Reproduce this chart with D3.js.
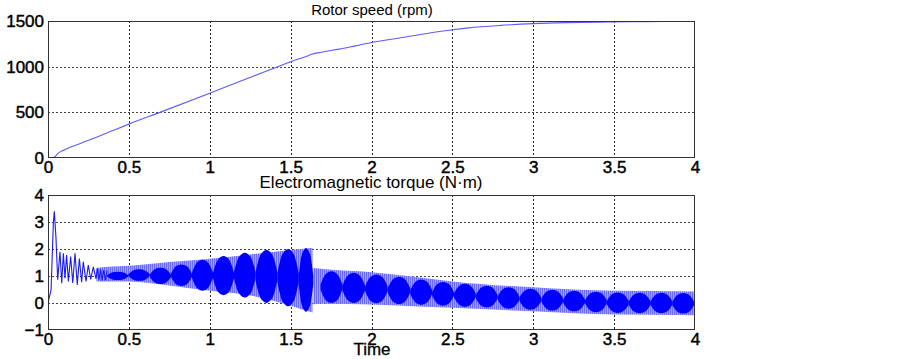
<!DOCTYPE html>
<html>
<head>
<meta charset="utf-8">
<script src="https://cdn.jsdelivr.net/npm/d3@7"></script>
<style>
  body { margin: 0; background: #fff; }
  text { font-family: "Liberation Sans", Arial, sans-serif; fill: #000; }
</style>
</head>
<body>
<div id="chart"></div>
<script>
// ---- data ----
const timeTicks = [0, 0.5, 1, 1.5, 2, 2.5, 3, 3.5, 4];
const speedTicks = [0, 500, 1000, 1500];
const torqueTicks = [-1, 0, 1, 2, 3, 4];

// rotor speed (rpm)
const speedTime = [0, 0.02, 0.04, 0.06, 0.1, 0.2, 0.3, 0.4, 0.5, 0.7, 1.0, 1.2, 1.4, 1.5, 1.6, 1.63, 1.7, 1.8, 1.9, 2.0, 2.2, 2.4, 2.5, 2.6, 2.8, 3.0, 3.2, 3.4, 3.6, 3.8, 4.0];
const speedRpm  = [0, 0, 10, 48, 88, 160, 228, 300, 371, 505, 710, 848, 985, 1053, 1115, 1135, 1160, 1192, 1228, 1264, 1322, 1380, 1405, 1425, 1452, 1471, 1482, 1488, 1492, 1495, 1497];

// torque start-up transient (N·m)
const transTime   = [0, 0.019, 0.033, 0.039, 0.049, 0.06, 0.074, 0.085, 0.095, 0.105, 0.115, 0.126, 0.14, 0.153, 0.167, 0.181, 0.194, 0.208, 0.218, 0.235, 0.249, 0.264, 0.28, 0.297, 0.305, 0.315, 0.325, 0.335, 0.345, 0.355, 0.365];
const transTorque = [0, 0.49, 2.94, 3.40, 2.45, 0.86, 1.90, 0.73, 1.84, 0.92, 1.78, 0.80, 1.72, 0.74, 1.84, 0.67, 1.65, 0.77, 1.53, 0.80, 1.40, 0.87, 1.34, 0.89, 1.28, 0.86, 1.25, 0.84, 1.22, 0.85, 1.2];

// torque ripple envelope, before the load step
const bandTimeA = [0.30, 0.40, 0.50, 0.75, 1.00, 1.25, 1.50, 1.56, 1.635];
const bandUpA   = [1.30, 1.35, 1.38, 1.52, 1.64, 1.80, 1.96, 2.00, 2.05];
const bandLoA   = [0.80, 0.80, 0.80, 0.65, 0.45, 0.28, -0.10, -0.22, -0.35];
// after the load step
const bandTimeB = [1.64, 1.70, 2.00, 2.25, 2.50, 3.00, 3.50, 4.00];
const bandUpB   = [1.30, 1.26, 1.14, 0.98, 0.80, 0.58, 0.45, 0.43];
const bandLoB   = [-0.05, -0.03, -0.06, -0.12, -0.18, -0.31, -0.43, -0.45];

// beat lobes: boundary times and extent at lobe centre
const lobeNodesA = [0.365, 0.497, 0.63, 0.76, 0.89, 1.02, 1.15, 1.283, 1.418, 1.55, 1.64];
const lobeTopA   = [1.16, 1.25, 1.31, 1.43, 1.60, 1.74, 1.86, 1.97, 2.00, 2.04];
const lobeBotA   = [0.85, 0.82, 0.70, 0.63, 0.45, 0.29, 0.20, 0.00, -0.12, -0.33];
const lobeNodesB = [1.685, 1.82, 1.96, 2.10, 2.24, 2.375, 2.51, 2.645, 2.78, 2.915, 3.05, 3.185, 3.32, 3.455, 3.59, 3.725, 3.86, 3.995];
const lobeTopB   = [1.18, 1.12, 1.06, 0.97, 0.87, 0.78, 0.71, 0.64, 0.58, 0.53, 0.49, 0.45, 0.42, 0.39, 0.38, 0.38, 0.37];
const lobeBotB   = [0.00, 0.00, -0.01, -0.04, -0.07, -0.10, -0.14, -0.17, -0.21, -0.25, -0.28, -0.31, -0.34, -0.37, -0.38, -0.38, -0.39];

// ---- layout ----
const width = 903, height = 359;
const left = 48, right = 695;
const svg = d3.select("#chart").append("svg")
    .attr("width", width).attr("height", height);

const x = d3.scaleLinear().domain([0, 4]).range([left, right]);

const defs = svg.append("defs");
const pat = defs.append("pattern")
    .attr("id", "ripple").attr("patternUnits", "userSpaceOnUse")
    .attr("width", 2).attr("height", 4);
pat.append("rect").attr("width", 2).attr("height", 4).attr("fill", "#a4a4ff");
pat.append("rect").attr("width", 1).attr("height", 4).attr("fill", "#6a6aff");

function panel(top, bottom, y, yTicks, id) {
  defs.append("clipPath").attr("id", id)
    .append("rect").attr("x", left).attr("y", top)
    .attr("width", right - left).attr("height", bottom - top);

  const g = svg.append("g");
  // grid
  g.selectAll(".vg").data(timeTicks.slice(1, -1)).join("line")
    .attr("x1", d => Math.round(x(d)) + 0.5).attr("x2", d => Math.round(x(d)) + 0.5)
    .attr("y1", top).attr("y2", bottom)
    .attr("stroke", "#222").attr("stroke-dasharray", "2,2");
  g.selectAll(".hg").data(yTicks.slice(1, -1)).join("line")
    .attr("y1", d => Math.round(y(d)) + 0.5).attr("y2", d => Math.round(y(d)) + 0.5)
    .attr("x1", left).attr("x2", right)
    .attr("stroke", "#444").attr("stroke-dasharray", "2,2");

  // axes
  const ax = svg.append("g").attr("transform", `translate(0,${bottom})`)
    .call(d3.axisBottom(x).tickValues(timeTicks).tickFormat(d3.format("~g")).tickSize(0).tickPadding(3));
  const ay = svg.append("g").attr("transform", `translate(${left},0)`)
    .call(d3.axisLeft(y).tickValues(yTicks).tickFormat(d3.format("~g")).tickSize(0).tickPadding(4));
  [ax, ay].forEach(a => {
    a.select(".domain").remove();
    a.selectAll("text").style("font-size", "17px")
      .style("font-family", '"Liberation Sans", Arial, sans-serif')
      .attr("fill", "#000").attr("stroke", "#000").attr("stroke-width", 0.45);
  });
  return g.append("g").attr("clip-path", `url(#${id})`);
}

function frame(top, bottom) {
  svg.append("rect")
    .attr("x", left + 0.5).attr("y", top + 0.5)
    .attr("width", right - left - 1).attr("height", bottom - top - 1)
    .attr("fill", "none").attr("stroke", "#333");
}

// ---- rotor speed ----
const ySpeed = d3.scaleLinear().domain([0, 1500]).range([158, 21]);
const gs = panel(21, 158, ySpeed, speedTicks, "clipSpeed");
gs.append("path")
  .datum(speedTime.map((t, i) => [t, speedRpm[i]]))
  .attr("fill", "none").attr("stroke", "#5b5bff").attr("stroke-width", 1.1)
  .attr("d", d3.line().x(d => x(d[0])).y(d => ySpeed(d[1])).curve(d3.curveMonotoneX));
frame(21, 158);
svg.append("text").attr("x", 372).attr("y", 15).attr("text-anchor", "middle")
  .style("font-size", "15px").text("Rotor speed (rpm)");

// ---- electromagnetic torque ----
const yTorque = d3.scaleLinear().domain([-1, 4]).range([330, 195]);
const gt = panel(195, 330, yTorque, torqueTicks, "clipTorque");

const band = d3.area().x(d => x(d.t)).y0(d => yTorque(d.lo)).y1(d => yTorque(d.hi))
  .curve(d3.curveMonotoneX);
[[bandTimeA, bandUpA, bandLoA], [bandTimeB, bandUpB, bandLoB]].forEach(([ts, up, lo]) => {
  gt.append("path")
    .datum(ts.map((t, i) => ({t, hi: up[i], lo: lo[i]})))
    .attr("fill", "url(#ripple)").attr("d", band);
});

// lobe outline: fraction along lobe -> fraction of half-height
const lobeProfile = [[0, 0.14], [0.1, 0.5], [0.25, 0.84], [0.5, 1], [0.75, 0.84], [0.9, 0.5], [1, 0.14]];
const lobeArea = d3.area().x(d => x(d.t)).y0(d => yTorque(d.lo)).y1(d => yTorque(d.hi))
  .curve(d3.curveCatmullRom);
[[lobeNodesA, lobeTopA, lobeBotA], [lobeNodesB, lobeTopB, lobeBotB]].forEach(([nodes, tops, bots]) => {
  tops.forEach((top, i) => {
    const t0 = nodes[i], t1 = nodes[i + 1];
    const mid = (top + bots[i]) / 2, half = (top - bots[i]) / 2;
    gt.append("path")
      .datum(lobeProfile.map(([f, p]) => ({t: t0 + f * (t1 - t0), hi: mid + half * p, lo: mid - half * p})))
      .attr("fill", "#0000ff").attr("d", lobeArea);
  });
});

gt.append("path")
  .datum(transTime.map((t, i) => [t, transTorque[i]]))
  .attr("fill", "none").attr("stroke", "#1a1aff").attr("stroke-width", 1.1)
  .attr("d", d3.line().x(d => x(d[0])).y(d => yTorque(d[1])));
frame(195, 330);

svg.append("text").attr("x", 371).attr("y", 188).attr("text-anchor", "middle")
  .style("font-size", "17px").text("Electromagnetic torque (N·m)");
svg.append("text").attr("x", 372).attr("y", 355).attr("text-anchor", "middle")
  .style("font-size", "17px").attr("stroke", "#000").attr("stroke-width", 0.3).text("Time");
</script>
</body>
</html>
